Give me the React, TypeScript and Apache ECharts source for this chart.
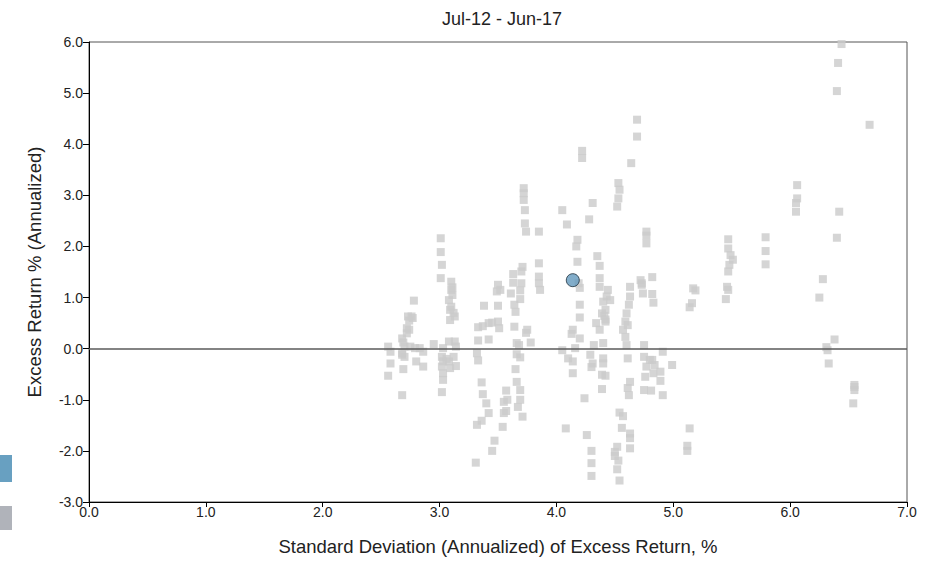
import React, { useEffect, useRef } from "react";
import * as echarts from "echarts";

const chartTitle = "Jul-12 - Jun-17";
const xAxisName = "Standard Deviation (Annualized) of Excess Return, %";
const yAxisName = "Excess Return % (Annualized)";
const xTicks = [0, 1, 2, 3, 4, 5, 6, 7];
const yTicks = [-3, -2, -1, 0, 1, 2, 3, 4, 5, 6];

// [std deviation, excess return] of peer funds
const peersLow: [number, number][] = [
  [2.56, 0.04], [2.58, -0.06], [2.58, -0.29], [2.56, -0.53],
  [2.68, 0.2], [2.7, 0.04], [2.68, -0.09], [2.7, -0.16], [2.69, -0.4], [2.68, -0.91],
  [2.72, 0.4], [2.74, 0.37], [2.72, 0.3], [2.73, 0.63], [2.76, 0.63], [2.77, 0.6], [2.74, 0.55], [2.78, 0.94],
  [2.69, 0.12], [2.68, -0.12],
  [2.75, 0.04], [2.79, 0.01], [2.8, -0.25], [2.86, -0.35], [2.83, 0.01], [2.86, -0.06], [2.95, 0.09],
  [3.01, 2.16], [3.01, 1.89], [3.02, 1.64], [3.01, 1.38],
  [3.1, 1.31], [3.1, 1.15], [3.11, 1.05], [3.08, 0.95], [3.1, 0.82], [3.09, 0.76], [3.13, 0.63], [3.09, 0.56], [3.11, 1.2], [3.12, 0.7],
  [3.08, 0.14], [3.13, 0.14], [3.14, 0.04], [3.03, 0.01], [3.02, -0.16], [3.03, -0.25], [3.08, -0.25], [3.12, -0.16],
  [3.14, -0.34], [3.02, -0.35], [3.03, -0.48], [3.03, -0.61], [3.02, -0.85], [3.09, -0.38], [3.06, -0.2],
];

const peersMid: [number, number][] = [
  [3.72, 3.14], [3.72, 3.04], [3.72, 2.91], [3.73, 2.71], [3.73, 2.45], [3.74, 2.29], [3.85, 2.29],
  [3.85, 1.67], [3.71, 1.6], [3.7, 1.51], [3.63, 1.46], [3.63, 1.29], [3.7, 1.28], [3.85, 1.41], [3.85, 1.28], [3.86, 1.15],
  [3.5, 1.25], [3.49, 1.12], [3.52, 1.15], [3.61, 1.08], [3.69, 1.14], [3.69, 0.97], [3.64, 0.86], [3.65, 0.72],
  [3.38, 0.84], [3.5, 0.84], [3.33, 0.42], [3.37, 0.44], [3.42, 0.5], [3.45, 0.51], [3.5, 0.53], [3.51, 0.4],
  [3.33, 0.16], [3.42, 0.18], [3.64, 0.43], [3.75, 0.37], [3.74, 0.31], [3.66, 0.11], [3.68, 0.07], [3.78, 0.12],
  [3.32, -0.09], [3.33, -0.23], [3.66, -0.11], [3.69, -0.17], [3.65, -0.4], [3.66, -0.65], [3.69, -0.81], [3.69, -1.0],
  [3.67, -1.14], [3.71, -1.33], [3.57, -0.82], [3.55, -1.04], [3.58, -1.0], [3.55, -1.26], [3.57, -1.22], [3.54, -1.53],
  [3.36, -0.66], [3.37, -0.89], [3.4, -1.07], [3.42, -1.26], [3.36, -1.41], [3.32, -1.49], [3.47, -1.8], [3.45, -2.0], [3.31, -2.23],
];

const peersHigh: [number, number][] = [
  [4.69, 4.15], [4.69, 4.48], [4.22, 3.87], [4.22, 3.73], [4.64, 3.63],
  [4.53, 3.24], [4.54, 3.11], [4.53, 2.94], [4.52, 2.78], [4.31, 2.85], [4.05, 2.71], [4.28, 2.53], [4.09, 2.43],
  [4.18, 2.13], [4.17, 2.0], [4.18, 1.7], [4.35, 1.81], [4.37, 1.62], [4.37, 1.38], [4.37, 1.21],
  [4.44, 1.15], [4.43, 1.02], [4.46, 0.95], [4.4, 0.92], [4.42, 0.76], [4.39, 0.69], [4.42, 0.53], [4.34, 0.5], [4.37, 0.37],
  [4.41, 0.64], [4.42, 0.57],
  [4.63, 1.21], [4.6, 0.69], [4.63, 1.02], [4.62, 0.86], [4.59, 0.53], [4.61, 0.46], [4.57, 0.37], [4.59, 0.23],
  [4.19, 1.28], [4.2, 1.19], [4.2, 0.86], [4.2, 0.61], [4.13, 0.29], [4.14, 0.37], [4.2, 0.2], [4.16, 0.01],
  [4.05, -0.03], [4.1, -0.19], [4.14, -0.25], [4.14, -0.48], [4.24, -0.97], [4.08, -1.56],
  [4.32, 0.07], [4.4, 0.11], [4.29, -0.12], [4.31, -0.29], [4.3, -0.36], [4.4, -0.19], [4.4, -0.29], [4.39, -0.51], [4.42, -0.53], [4.39, -0.79],
  [4.6, 0.07], [4.61, -0.19], [4.63, -0.65], [4.61, -0.77], [4.62, -0.91],
  [4.54, -1.25], [4.57, -1.32], [4.56, -1.55], [4.63, -1.66], [4.63, -1.75], [4.63, -1.95],
  [4.26, -1.69], [4.3, -2.0], [4.3, -2.24], [4.3, -2.49],
  [4.52, -1.92], [4.5, -2.02], [4.5, -2.1], [4.53, -2.19], [4.52, -2.36], [4.54, -2.58],
];

const peersRight: [number, number][] = [
  [4.77, 2.29], [4.77, 2.21], [4.77, 2.06],
  [5.47, 2.14], [5.47, 1.96], [5.49, 1.83], [5.51, 1.74], [5.48, 1.64], [5.47, 1.51], [5.46, 1.21], [5.47, 1.15], [5.45, 0.97],
  [5.17, 1.18], [5.19, 1.14], [5.16, 0.89], [5.14, 0.81],
  [4.82, 1.4], [4.73, 1.28], [4.72, 1.34], [4.73, 1.25], [4.74, 1.08], [4.82, 1.07], [4.83, 0.9],
  [4.75, 0.07], [4.91, -0.06], [4.75, -0.16], [4.82, -0.22], [4.84, -0.32], [4.99, -0.32], [4.76, -0.55], [4.83, -0.48],
  [4.89, -0.45], [4.89, -0.63], [4.75, -0.81], [4.81, -0.82], [4.91, -0.91], [4.77, -0.35], [4.8, -0.22],
  [5.14, -1.56], [5.12, -2.0], [5.12, -1.9],
  [6.44, 5.96], [6.41, 5.59], [6.4, 5.04], [6.68, 4.38],
  [6.06, 3.2], [6.06, 2.94], [6.05, 2.85], [6.05, 2.68], [6.42, 2.68], [6.4, 2.17],
  [5.79, 2.18], [5.79, 1.91], [5.79, 1.65],
  [6.28, 1.36], [6.25, 1.0], [6.38, 0.18], [6.32, -0.03], [6.31, 0.03], [6.33, -0.29],
  [6.55, -0.71], [6.55, -0.81], [6.55, -0.75], [6.54, -1.07],
];

const fundPoint: [number, number] = [4.14, 1.34];

const FONT = "'Liberation Sans', Arial, sans-serif";

export default function App() {
  const ref = useRef<HTMLDivElement>(null);

  useEffect(() => {
    if (!ref.current) return;
    const chart = echarts.init(ref.current, undefined, { renderer: "svg" });
    const peers = [...peersLow, ...peersMid, ...peersHigh, ...peersRight];
    chart.setOption({
      animation: false,
      backgroundColor: "#ffffff",
      textStyle: { fontFamily: FONT },
      title: {
        text: chartTitle,
        left: 497,
        textAlign: "center",
        top: 5,
        textStyle: { fontFamily: FONT, fontSize: 18, fontWeight: "normal", color: "#222" },
      },
      grid: {
        left: 89,
        right: 30,
        top: 42,
        bottom: 59,
        show: true,
        borderColor: "#555",
        borderWidth: 1,
        backgroundColor: "transparent",
      },
      xAxis: {
        type: "value",
        min: xTicks[0],
        max: xTicks[xTicks.length - 1],
        interval: 1,
        name: xAxisName,
        nameLocation: "middle",
        nameGap: 35,
        nameTextStyle: { fontFamily: FONT, fontSize: 18.5, color: "#222" },
        axisLine: { show: true, onZero: false, lineStyle: { color: "#000", width: 1 } },
        axisTick: { show: true, inside: false, length: 5, lineStyle: { color: "#000" } },
        axisLabel: {
          margin: 3,
          fontFamily: FONT,
          fontSize: 14,
          color: "#222",
          formatter: (v: number) => v.toFixed(1),
        },
        splitLine: { show: false },
      },
      yAxis: {
        type: "value",
        min: yTicks[0],
        max: yTicks[yTicks.length - 1],
        interval: 1,
        name: yAxisName,
        nameLocation: "middle",
        nameGap: 45,
        nameRotate: 90,
        nameTextStyle: { fontFamily: FONT, fontSize: 18.5, color: "#222" },
        axisLine: { show: true, onZero: false, lineStyle: { color: "#000", width: 1 } },
        axisTick: { show: true, inside: false, length: 6, lineStyle: { color: "#000" } },
        axisLabel: {
          margin: 6,
          fontFamily: FONT,
          fontSize: 14,
          color: "#222",
          formatter: (v: number) => v.toFixed(1),
        },
        splitLine: { show: false },
      },
      graphic: [
        { type: "rect", left: 0, top: 455, shape: { width: 12, height: 27 }, style: { fill: "#68a0c1" } },
        { type: "rect", left: 0, top: 506, shape: { width: 12, height: 24 }, style: { fill: "#b0b3ba" } },
      ],
      series: [
        {
          name: "Peers",
          type: "scatter",
          symbol: "rect",
          symbolSize: 8,
          itemStyle: { color: "#cbcbcb" },
          data: peers,
          z: 2,
          markLine: {
            silent: true,
            symbol: "none",
            label: { show: false },
            lineStyle: { color: "#5a5a5a", width: 1.5, type: "solid" },
            data: [{ yAxis: 0 }],
          },
        },
        {
          name: "Fund",
          type: "scatter",
          symbol: "circle",
          symbolSize: 13,
          itemStyle: { color: "#6399bd", borderColor: "#1b2d3a", borderWidth: 1 },
          data: [fundPoint],
          z: 5,
        },
      ],
    });
    return () => chart.dispose();
  }, []);

  return (
    <div
      ref={ref}
      style={{ position: "absolute", left: 0, top: 0, width: 937, height: 561 }}
    />
  );
}
